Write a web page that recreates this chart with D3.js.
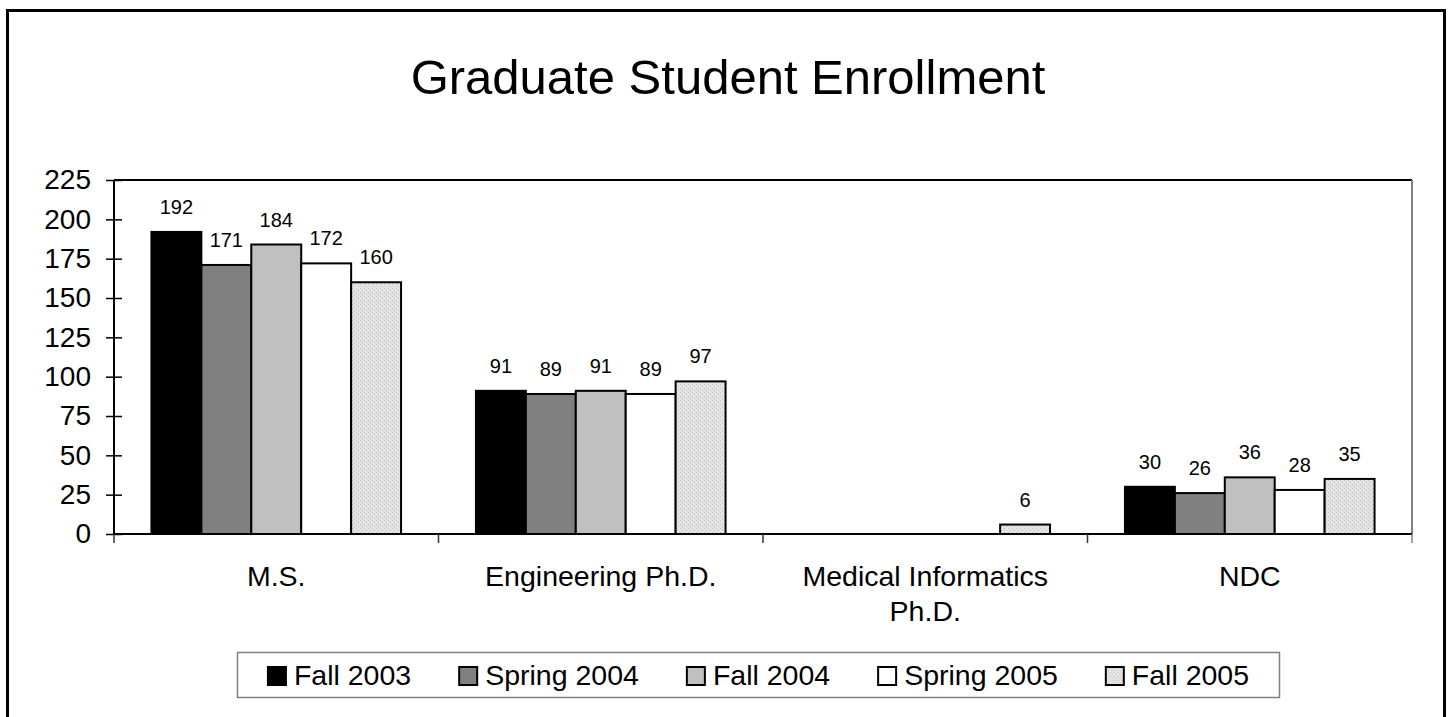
<!DOCTYPE html>
<html>
<head>
<meta charset="utf-8">
<script src="https://cdn.jsdelivr.net/npm/d3@7"></script>
<style>
	body { margin: 0; background: #fff; }
	svg { display: block; font-family: "Liberation Sans", Arial, sans-serif; }
</style>
</head>
<body>
<svg id="chart" width="1449" height="717"></svg>
<script>
// Dados do grafico
var title = "Graduate Student Enrollment";
var categories = ["M.S.", "Engineering Ph.D.", "Medical Informatics Ph.D.", "NDC"];
var seriesNames = ["Fall 2003", "Spring 2004", "Fall 2004", "Spring 2005", "Fall 2005"];
var fall2003 = [192, 91, null, 30];
var spring2004 = [171, 89, null, 26];
var fall2004 = [184, 91, null, 36];
var spring2005 = [172, 89, null, 28];
var fall2005 = [160, 97, 6, 35];
var yTicks = [0, 25, 50, 75, 100, 125, 150, 175, 200, 225];

var seriesValues = [fall2003, spring2004, fall2004, spring2005, fall2005];
var fills = ["#000000", "#808080", "#c0c0c0", "#ffffff", "url(#dots)"];

var svg = d3.select("#chart");

// padrao pontilhado da ultima serie
var pat = svg.append("defs").append("pattern")
	.attr("id", "dots")
	.attr("patternUnits", "userSpaceOnUse")
	.attr("width", 4).attr("height", 4);
pat.append("rect").attr("width", 4).attr("height", 4).attr("fill", "#e4e4e4");
pat.append("rect").attr("x", 0).attr("y", 0).attr("width", 1).attr("height", 1).attr("fill", "#bdbdbd");
pat.append("rect").attr("x", 2).attr("y", 2).attr("width", 1).attr("height", 1).attr("fill", "#bdbdbd");

// moldura externa
svg.append("rect")
	.attr("x", 7.5).attr("y", 10.5)
	.attr("width", 1437).attr("height", 730)
	.attr("fill", "none").attr("stroke", "#000").attr("stroke-width", 3);

svg.append("text")
	.attr("x", 728).attr("y", 94)
	.attr("text-anchor", "middle")
	.attr("font-size", 49)
	.text(title);

// limites da area de plotagem
var pLeft = 114, pRight = 1412, pTop = 180, pBottom = 534;

var x = d3.scaleBand().domain(categories).range([pLeft, pRight]);
var bw = x.bandwidth() / 6.5;
var xs = d3.scaleBand().domain(seriesNames)
	.range([0.75 * bw, x.bandwidth() - 0.75 * bw]);
var y = d3.scaleLinear().domain([0, 225]).range([pBottom, pTop]);

// borda da area do grafico
svg.append("line")
	.attr("x1", pLeft).attr("x2", pRight).attr("y1", pTop).attr("y2", pTop)
	.attr("stroke", "#000").attr("stroke-width", 2);
svg.append("line")
	.attr("x1", pRight).attr("x2", pRight).attr("y1", pTop).attr("y2", pBottom)
	.attr("stroke", "#808080").attr("stroke-width", 2);

// barras
var groups = svg.append("g").selectAll("g")
	.data(seriesNames)
	.enter().append("g");

groups.each(function(name, si){
	var g = d3.select(this);
	var pts = categories.map(function(c, ci){ return { cat: c, v: seriesValues[si][ci] }; })
		.filter(function(d){ return d.v !== null; });
	g.selectAll("rect")
		.data(pts)
		.enter().append("rect")
		.attr("x", function(d){ return x(d.cat) + xs(name); })
		.attr("y", function(d){ return y(d.v); })
		.attr("width", xs.bandwidth())
		.attr("height", function(d){ return y(0) - y(d.v); })
		.attr("fill", fills[si])
		.attr("stroke", "#000").attr("stroke-width", 2);
	g.selectAll("text")
		.data(pts)
		.enter().append("text")
		.attr("x", function(d){ return x(d.cat) + xs(name) + xs.bandwidth() / 2; })
		.attr("y", function(d){ return y(d.v) - 18; })
		.attr("text-anchor", "middle")
		.attr("font-size", 20)
		.text(function(d){ return d.v; });
});

// eixo Y
var yAxis = svg.append("g")
	.attr("transform", "translate(" + pLeft + ",0)")
	.call(d3.axisLeft(y).tickValues(yTicks).tickSize(8).tickPadding(15));
yAxis.select(".domain").attr("stroke-width", 2).attr("d", "M0," + pTop + "V" + pBottom);
yAxis.selectAll(".tick line").attr("x1", 8).attr("stroke-width", 1.5);
yAxis.selectAll(".tick text")
	.attr("font-size", 28)
	.attr("font-family", "Liberation Sans, Arial, sans-serif")
	.attr("fill", "#000");

// eixo X
var xAxis = svg.append("g")
	.attr("transform", "translate(0," + pBottom + ")");
xAxis.append("line")
	.attr("x1", pLeft).attr("x2", pRight)
	.attr("stroke", "#000").attr("stroke-width", 2);
var bounds = categories.map(function(c){ return x(c); }).concat([pRight]);
xAxis.selectAll("line.tk")
	.data(bounds)
	.enter().append("line")
	.attr("class", "tk")
	.attr("x1", function(d){ return d; }).attr("x2", function(d){ return d; })
	.attr("y1", 0).attr("y2", 9)
	.attr("stroke", function(d, i){ return i === bounds.length - 1 ? "#808080" : "#333"; })
	.attr("stroke-width", 1.5);

// rotulos das categorias com quebra de linha
var catLabels = svg.append("g").selectAll("text")
	.data(categories)
	.enter().append("text")
	.attr("x", function(d){ return x(d) + x.bandwidth() / 2; })
	.attr("y", 586)
	.attr("text-anchor", "middle")
	.attr("font-size", 28.5);

catLabels.each(function(d){
	var t = d3.select(this), words = d.split(" "), line = [], lines = [];
	var maxW = x.bandwidth() * 0.85;
	var probe = t.append("tspan");
	words.forEach(function(w){
		line.push(w);
		probe.text(line.join(" "));
		if (probe.node().getComputedTextLength() > maxW && line.length > 1){
			line.pop();
			lines.push(line.join(" "));
			line = [w];
		}
	});
	lines.push(line.join(" "));
	probe.remove();
	var cx = t.attr("x");
	lines.forEach(function(l, i){
		t.append("tspan").attr("x", cx).attr("dy", i === 0 ? 0 : 35).text(l);
	});
});

// legenda
var legend = svg.append("g");
legend.append("rect")
	.attr("x", 237.5).attr("y", 652.5)
	.attr("width", 1042).attr("height", 45)
	.attr("fill", "#fff").attr("stroke", "#808080").attr("stroke-width", 1.5);

var items = legend.selectAll("g.item")
	.data(seriesNames)
	.enter().append("g").attr("class", "item");
items.append("rect")
	.attr("y", 667).attr("width", 18).attr("height", 18)
	.attr("fill", function(d, i){ return fills[i]; })
	.attr("stroke", "#000").attr("stroke-width", 2);
items.append("text")
	.attr("x", 26).attr("y", 685)
	.attr("font-size", 28.5)
	.text(function(d){ return d; });

var widths = [], total = 0, gap = 48;
items.each(function(){
	var w = 26 + d3.select(this).select("text").node().getComputedTextLength();
	widths.push(w);
	total += w;
});
total += gap * (widths.length - 1);
var cur = 237.5 + (1042 - total) / 2;
items.each(function(d, i){
	d3.select(this).attr("transform", "translate(" + cur + ",0)");
	cur += widths[i] + gap;
});
</script>
</body>
</html>
